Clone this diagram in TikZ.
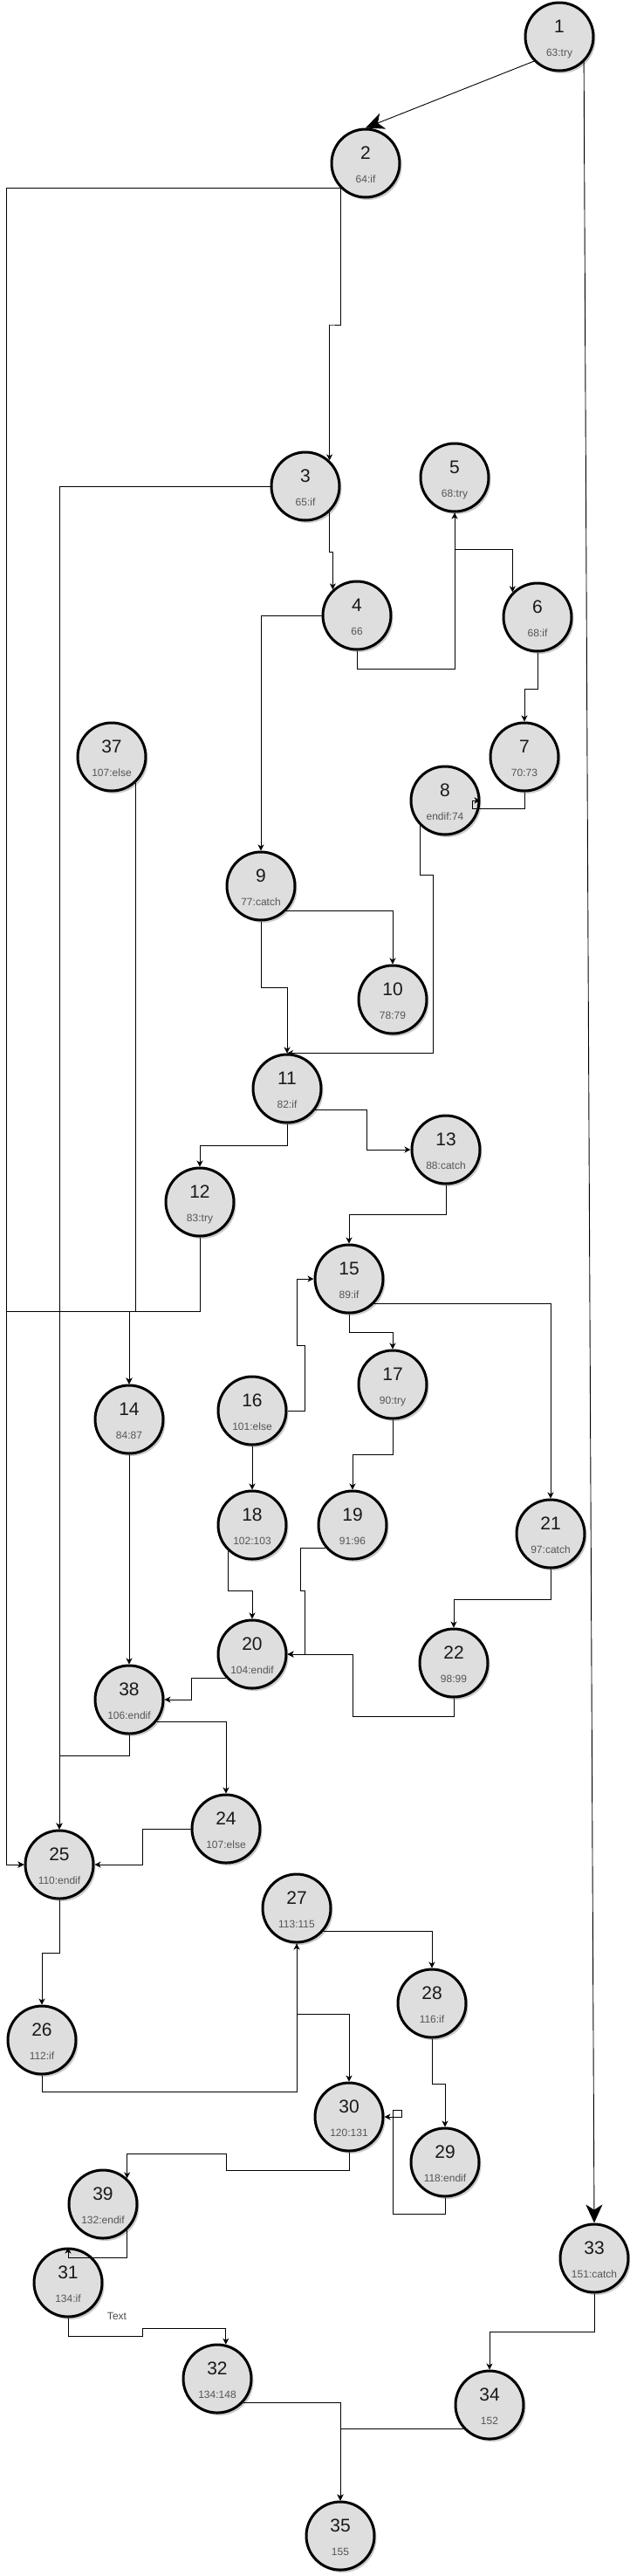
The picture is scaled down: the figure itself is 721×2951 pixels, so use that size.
\documentclass[tikz,border=0pt]{standalone}
\usepackage{fontspec}
\setmainfont{Liberation Sans}
\usetikzlibrary{arrows.meta,shadows}
\definecolor{nodefill}{HTML}{DEDEDE}
\definecolor{subgray}{HTML}{555555}
\tikzset{
  cfg/.style={circle, draw=black, line width=3pt, fill=nodefill, minimum size=78pt, inner sep=0pt,
    drop shadow={shadow xshift=2.5pt, shadow yshift=-3pt, fill=black!40, opacity=0.5}},
  numtxt/.style={anchor=base, inner sep=0pt, font=\fontsize{21pt}{21pt}\selectfont, text=black!90},
  subtxt/.style={anchor=base, inner sep=0pt, font=\fontsize{12pt}{12pt}\selectfont, text=subgray},
  edge/.style={draw=black, line width=0.9pt, -{Stealth[length=7pt,width=7pt,inset=2pt]}},
  bigedge/.style={draw=black, line width=0.9pt, -{Stealth[length=21pt,width=19pt,inset=6pt]}},
  plain/.style={draw=black, line width=0.9pt},
}
\newcommand{\cfgnode}[5]{%
  \node[cfg] (#1) at (#2,#3) {};
  \node[numtxt] (#1-a) at ([yshift=4.5pt]#1.center) {#4};
  \node[subtxt] (#1-b) at ([yshift=-22pt]#1.center) {#5};
}
\begin{document}
\begin{tikzpicture}[x=1pt,y=-1pt]
\useasboundingbox (0,0) rectangle (721,2951);
\fill[white] (0,0) rectangle (721,2951);

\cfgnode{n1}{641}{42}{1}{63:try}
\cfgnode{n2}{419}{187}{2}{64:if}
\cfgnode{n3}{350}{557}{3}{65:if}
\cfgnode{n5}{521}{547}{5}{68:try}
\cfgnode{n4}{409}{705}{4}{66}
\cfgnode{n6}{616}{707}{6}{68:if}
\cfgnode{n37}{128}{867}{37}{107:else}
\cfgnode{n7}{601}{867}{7}{70:73}
\cfgnode{n8}{510}{917}{8}{endif:74}
\cfgnode{n9}{299}{1015}{9}{77:catch}
\cfgnode{n10}{450}{1145}{10}{78:79}
\cfgnode{n11}{329}{1247}{11}{82:if}
\cfgnode{n13}{511}{1317}{13}{88:catch}
\cfgnode{n12}{229}{1377}{12}{83:try}
\cfgnode{n15}{400}{1465}{15}{89:if}
\cfgnode{n17}{450}{1586}{17}{90:try}
\cfgnode{n16}{289}{1616}{16}{101:else}
\cfgnode{n14}{148}{1626}{14}{84:87}
\cfgnode{n18}{289}{1747}{18}{102:103}
\cfgnode{n19}{404}{1747}{19}{91:96}
\cfgnode{n21}{631}{1757}{21}{97:catch}
\cfgnode{n20}{289}{1895}{20}{104:endif}
\cfgnode{n22}{520}{1905}{22}{98:99}
\cfgnode{n38}{148}{1947}{38}{106:endif}
\cfgnode{n24}{259}{2095}{24}{107:else}
\cfgnode{n25}{68}{2136}{25}{110:endif}
\cfgnode{n27}{340}{2186}{27}{113:115}
\cfgnode{n28}{495}{2295}{28}{116:if}
\cfgnode{n26}{48}{2337}{26}{112:if}
\cfgnode{n30}{400}{2425}{30}{120:131}
\cfgnode{n29}{510}{2477}{29}{118:endif}
\cfgnode{n39}{118}{2525}{39}{132:endif}
\cfgnode{n33}{681}{2587}{33}{151:catch}
\cfgnode{n31}{78}{2615}{31}{134:if}
\cfgnode{n32}{249}{2725}{32}{134:148}
\cfgnode{n34}{561}{2755}{34}{152}
\cfgnode{n35}{390}{2905}{35}{155}

\node[subtxt, anchor=center, text=black!70] (txt) at (134,2653) {Text};

% connectors
\draw[bigedge] (n1.224) -- (n2.north);
\draw[bigedge] (n1.314) -- (n33.north);
\draw[edge] (n2.225) -| (7,2136) -- (n25.west);
\draw[edge] (n2.225) |- (378,372) -| (n3.47);
\draw[edge] (n3.west) -| (n25.north);
\draw[edge] (n3.313) |- (381,632) -| (n4.133);
\draw[edge] (n4.west) -| (n9.north);
\draw[edge] (n4.south) |- (521,766) -- (n5.south);
\draw[edge] (n5.south) |- (587,629) -| (n6.135);
\draw[edge] (n6.south) |- (601,789) -| (n7.north);
\draw[edge] (n7.south) |- (541,926) |- (n8.east);
\draw[edge] (n8.226) |- (496,1002) |- (n11.north);
\draw[edge] (n9.-45) -| (n10.north);
\draw[edge] (n9.south) |- (329,1131) -- (n11.north);
\draw[edge] (n37.312) |- (148,1502) -- (n14.north);
\draw[edge] (n12.south) |- (148,1502) -- (n14.north);
\draw[edge] (n12.south) |- (7,1502) |- (n25.west);
\draw[edge] (n11.south) |- (229,1312) -- (n12.north);
\draw[edge] (n11.-37) -| (420,1317) -- (n13.west);
\draw[edge] (n13.south) |- (400,1391) -- (n15.north);
\draw[edge] (n16.east) -| (349,1541) -| (340,1465) -- (n15.west);
\draw[edge] (n15.south) |- (450,1526) -- (n17.north);
\draw[edge] (n15.-44) -| (n21.north);
\draw[edge] (n16.south) -- (n18.north);
\draw[edge] (n17.south) |- (404,1666) -- (n19.north);
\draw[edge] (n14.south) -- (n38.north);
\draw[edge] (n18.228) |- (289,1822) -- (n20.north);
\draw[edge] (n19.221) -| (344,1822) -| (349,1895) -- (n20.east);
\draw[edge] (n22.south) |- (404,1966) |- (n20.east);
\draw[edge] (n21.south) |- (520,1832) -- (n22.north);
\draw[edge] (n20.222) -| (219,1947) -- (n38.east);
\draw[edge] (n38.south) |- (68,2011) -- (n25.north);
\draw[edge] (n38.322) -| (n24.north);
\draw[edge] (n24.west) -| (163,2136) -- (n25.east);
\draw[edge] (n25.south) |- (48,2237) -- (n26.north);
\draw[edge] (n26.south) |- (340,2396) -- (n27.south);
\draw[edge] (n27.319) -| (n28.north);
\draw[edge] (n27.south) |- (400,2307) -- (n30.north);
\draw[edge] (n28.south) |- (510,2387) -- (n29.north);
\draw[edge] (n29.south) |- (450,2536) |- (460,2417) |- (n30.east);
\draw[edge] (n30.south) |- (259,2486) |- (146,2467) -| (n39.47);
\draw[edge] (n39.313) |- (78,2586) -- (n31.north);
\draw[edge] (n31.south) |- (163,2676) |- (259,2667) -| (n32.76);
\draw[edge] (n33.south) |- (561,2671) -- (n34.north);
\draw[edge] (n32.317) -| (n35.north);
\draw[edge] (n34.222) -| (n35.north);
\end{tikzpicture}
\end{document}
